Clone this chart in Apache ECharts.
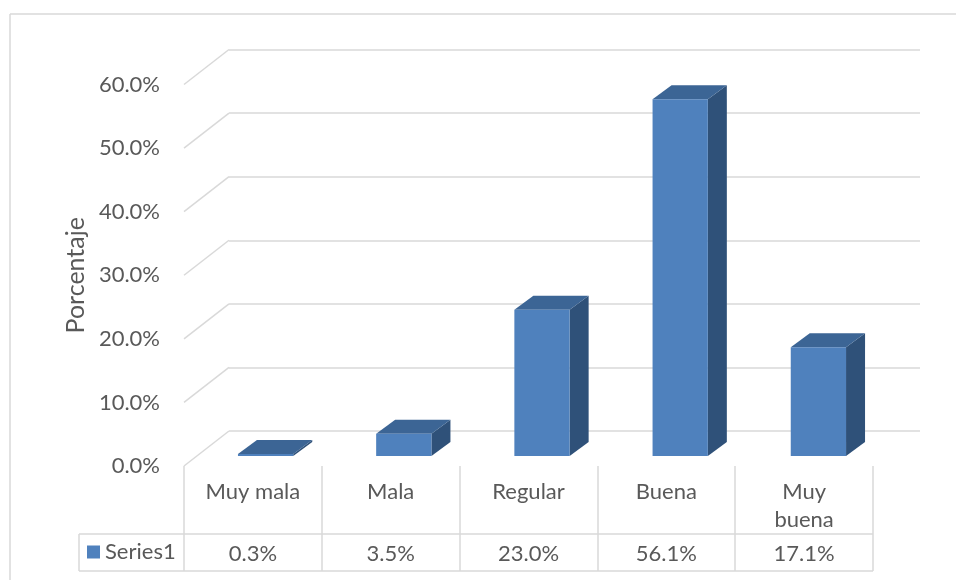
<!DOCTYPE html>
<html>
<head>
<meta charset="utf-8">
<script src="https://cdn.jsdelivr.net/npm/echarts@6/dist/echarts.min.js"></script>
<style>html,body{margin:0;padding:0;background:#fff}#c{width:956px;height:580px}</style>
</head>
<body>
<div id="c"></div>
<script>
var categories = ['Muy mala', 'Mala', 'Regular', 'Buena', 'Muy buena'];
var values = [0.3, 3.5, 23.0, 56.1, 17.1];
var yTicks = [0, 10, 20, 30, 40, 50, 60];
var seriesName = 'Series1';

var FONT = 'Lato, "Open Sans", sans-serif';
var FS = 22;
var TXT = '#595959';
var GRID = '#d9d9d9';
// 3D offsets
var WALL_DX = -45, WALL_DY = 35;     // back wall -> front plane
var BAR_DX = -32.5, BAR_DY = 25;     // back wall -> bar front face
var DEPTH_DX = 19, DEPTH_DY = -14;   // bar depth

var chart = echarts.init(document.getElementById('c'), null, {renderer: 'canvas'});

function barItem(params, api) {
  var i = api.value(0), v = api.value(1);
  var top = api.coord([i, v]);
  var base = api.coord([i, 0]);
  var w = api.size([1, 0])[0] * 0.4;
  var cx = top[0] + BAR_DX;
  var xl = cx - w / 2, xr = cx + w / 2;
  var yt = top[1] + BAR_DY, yb = base[1] + BAR_DY;
  return {
    type: 'group',
    children: [
      {type: 'polygon', shape: {points: [[xr, yt], [xr + DEPTH_DX, yt + DEPTH_DY], [xr + DEPTH_DX, yb + DEPTH_DY], [xr, yb]]},
        style: {fill: '#2f5179'}},
      {type: 'polygon', shape: {points: [[xl, yt], [xr, yt], [xr + DEPTH_DX, yt + DEPTH_DY], [xl + DEPTH_DX, yt + DEPTH_DY]]},
        style: {fill: '#3c6595'}},
      {type: 'rect', shape: {x: xl, y: yt, width: w, height: Math.max(yb - yt, 0.5)},
        style: {fill: '#4f81bd'}}
    ]
  };
}

function diagItem(params, api) {
  var v = api.value(0);
  var p = api.coord([0, v]);
  var x0 = params.coordSys.x;
  return {
    type: 'line',
    shape: {x1: x0, y1: p[1], x2: x0 + WALL_DX, y2: p[1] + WALL_DY},
    style: {stroke: GRID, lineWidth: 1.5}
  };
}

var option = {
  animation: false,
  backgroundColor: '#fff',
  textStyle: {fontFamily: FONT},
  grid: [
    {left: 229, right: 36, top: 49.5, bottom: 149},
    {left: 184, right: 83, top: 84.5, bottom: 114}
  ],
  legend: {
    data: [seriesName], left: 87, top: 541, padding: 0, itemWidth: 13, itemHeight: 13, icon: 'rect', itemGap: 6,
    textStyle: {fontSize: FS, color: TXT, fontFamily: FONT}
  },
  xAxis: [
    {gridIndex: 0, type: 'category', data: categories, show: false},
    {gridIndex: 1, type: 'category', data: categories, position: 'bottom',
      axisLine: {show: false},
      axisTick: {show: true, length: 105, lineStyle: {color: GRID, width: 1.5}},
      axisLabel: {margin: 12, fontSize: FS, color: TXT, lineHeight: 28, fontFamily: FONT,
        formatter: function (v) { return v === 'Muy buena' ? 'Muy\nbuena' : v; }}},
    {gridIndex: 1, type: 'category', data: values.map(function (v) { return v.toFixed(1) + '%'; }),
      position: 'bottom', offset: 0,
      axisLine: {show: false}, axisTick: {show: false},
      axisLabel: {margin: 75, fontSize: FS, color: TXT, lineHeight: 26, fontFamily: FONT}}
  ],
  yAxis: [
    {gridIndex: 0, type: 'value', min: 0, max: 60, interval: 10,
      axisLine: {show: false}, axisTick: {show: false}, axisLabel: {show: false},
      splitLine: {show: true, lineStyle: {color: GRID, width: 1.5}}},
    {gridIndex: 1, type: 'value', min: 0, max: 60, interval: 10,
      name: 'Porcentaje', nameLocation: 'middle', nameRotate: 90, nameGap: 92,
      nameTextStyle: {fontSize: 25, color: TXT, fontFamily: FONT},
      axisLine: {show: false}, axisTick: {show: false}, splitLine: {show: false},
      axisLabel: {margin: 24, fontSize: FS, color: TXT, fontFamily: FONT, padding: [12, 0, 0, 0],
        formatter: function (v) { return v.toFixed(1) + '%'; }}}
  ],
  series: [
    {name: 'wall', type: 'custom', xAxisIndex: 0, yAxisIndex: 0, silent: true,
      data: yTicks.map(function (t) { return [t]; }), renderItem: diagItem, z: 1},
    {name: seriesName, type: 'custom', xAxisIndex: 0, yAxisIndex: 0,
      itemStyle: {color: '#4f81bd'},
      data: values.map(function (v, i) { return [i, v]; }), renderItem: barItem, z: 5}
  ],
  graphic: [
    {type: 'line', shape: {x1: 10, y1: 14, x2: 956, y2: 14}, style: {stroke: GRID, lineWidth: 1.5}},
    {type: 'line', shape: {x1: 10, y1: 14, x2: 10, y2: 580}, style: {stroke: GRID, lineWidth: 1.5}},
    {type: 'line', shape: {x1: 79, y1: 534, x2: 873, y2: 534}, style: {stroke: GRID, lineWidth: 1.5}},
    {type: 'line', shape: {x1: 79, y1: 571, x2: 873, y2: 571}, style: {stroke: GRID, lineWidth: 1.5}},
    {type: 'line', shape: {x1: 79, y1: 534, x2: 79, y2: 571}, style: {stroke: GRID, lineWidth: 1.5}}
  ]
};
chart.setOption(option);
</script>
</body>
</html>
